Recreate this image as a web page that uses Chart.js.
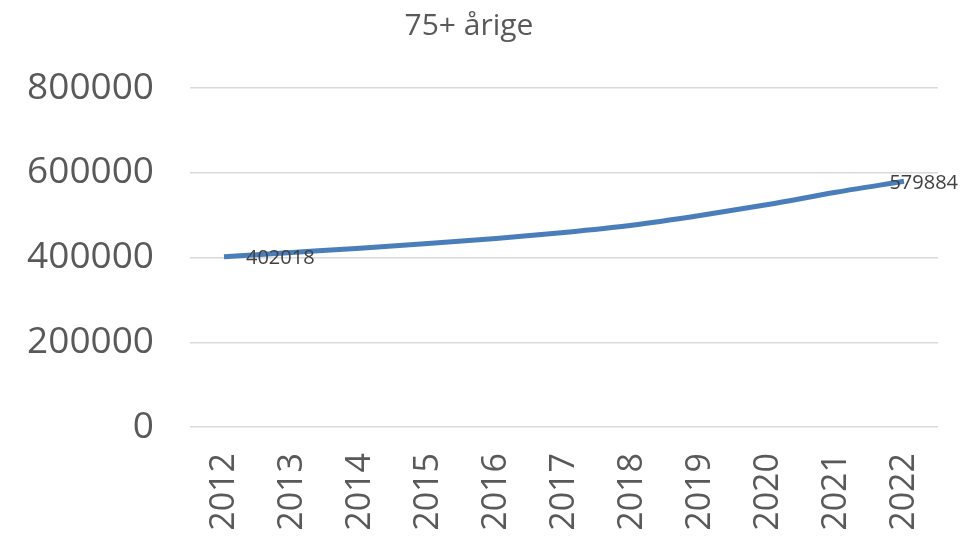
<!DOCTYPE html>
<html>
<head>
<meta charset="utf-8">
<script src="https://cdn.jsdelivr.net/npm/chart.js@4"></script>
<style>
  html, body { margin: 0; padding: 0; background: #fff; }
  #wrap { width: 980px; height: 541px; }
</style>
</head>
<body>
<div id="wrap"><canvas id="chart"></canvas></div>
<script>
const years = ['2012', '2013', '2014', '2015', '2016', '2017', '2018', '2019', '2020', '2021', '2022'];
const elderly = [402018, 412000, 422000, 433000, 445000, 459000, 476000, 499000, 525000, 554000, 579884];
const yTicks = [0, 200000, 400000, 600000, 800000];

// labels only on first and last point, like the original
const endLabels = {
    id: 'endLabels',
    afterDatasetsDraw(chart) {
        const ctx = chart.ctx;
        const pts = chart.getDatasetMeta(0).data;
        const data = chart.data.datasets[0].data;
        ctx.save();
        ctx.font = '20px "Open Sans", sans-serif';
        ctx.fillStyle = '#404040';
        ctx.textBaseline = 'middle';
        [0, pts.length - 1].forEach(i => {
            const txt = String(data[i]);
            const w = ctx.measureText(txt).width;
            let x = pts[i].x + 22;
            if (x + w > chart.width - 22) x = chart.width - 22 - w;
            ctx.fillText(txt, x, pts[i].y + 2);
        });
        ctx.restore();
    }
};

const ctx1 = document.getElementById('chart').getContext('2d');
const chart = new Chart(ctx1, {
    type: 'line',
    data: {
        labels: years,
        datasets: [{
            label: '75+ årige',
            data: elderly,
            borderColor: '#4a7ebb',
            borderWidth: 5,
            pointRadius: 0,
            tension: 0.4,
            cubicInterpolationMode: 'monotone',
            fill: false
        }]
    },
    options: {
        responsive: true,
        maintainAspectRatio: false,
        animation: false,
        layout: { padding: { left: 0, right: 42, top: 0, bottom: 0 } },
        scales: {
            x: {
                offset: true,
                grid: { display: false, drawTicks: false },
                border: { display: false },
                ticks: {
                    color: '#595959',
                    font: { family: '"Open Sans", sans-serif', size: 34 },
                    minRotation: 90,
                    maxRotation: 90,
                    padding: 26
                },
                afterFit: (scale) => { scale.height = 114; }
            },
            y: {
                min: 0,
                max: 800000,
                afterBuildTicks: (scale) => { scale.ticks = yTicks.map(v => ({ value: v })); },
                grid: { color: '#d9d9d9', lineWidth: 1.5, drawTicks: false },
                border: { display: false },
                ticks: {
                    color: '#595959',
                    font: { family: '"Open Sans", sans-serif', size: 37 },
                    padding: 36,
                    callback: (v) => String(v)
                },
                afterFit: (scale) => { scale.width = 190; }
            }
        },
        plugins: {
            legend: { display: false },
            tooltip: { enabled: false },
            title: {
                display: true,
                text: '75+ årige',
                color: '#595959',
                font: { family: '"Open Sans", sans-serif', size: 30, weight: 'normal' },
                padding: { top: 8, bottom: 44 }
            }
        }
    },
    plugins: [endLabels]
});
</script>
</body>
</html>
